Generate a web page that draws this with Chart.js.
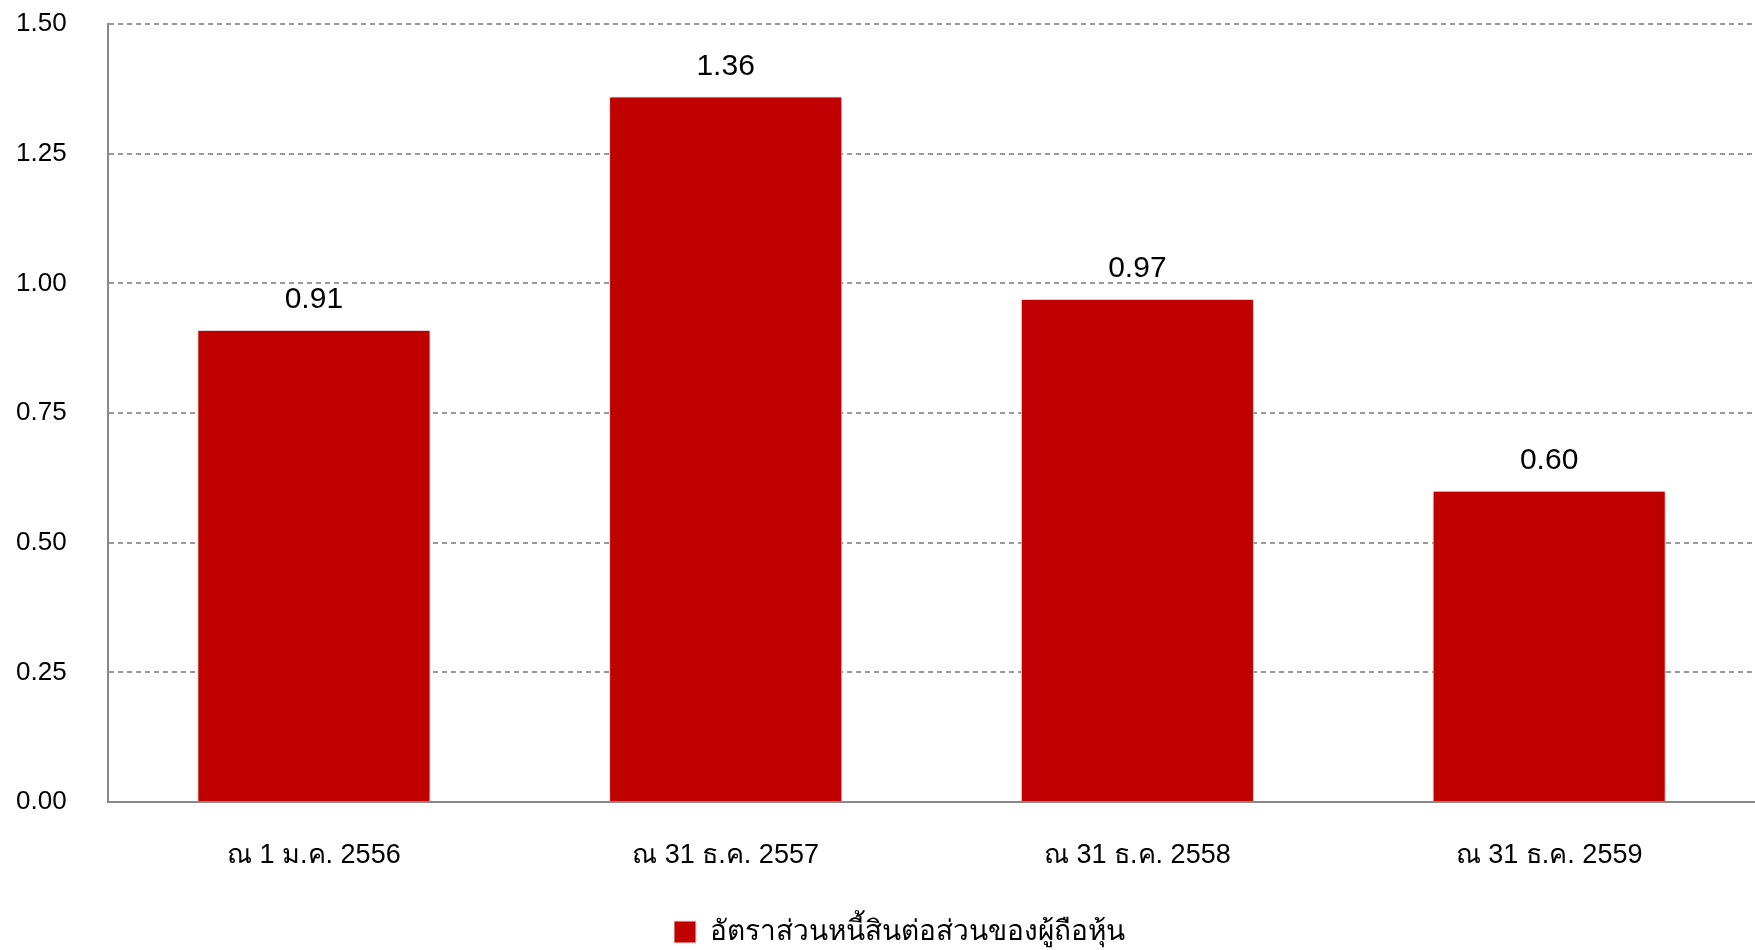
<!DOCTYPE html>
<html>
<head>
<meta charset="utf-8">
<script src="https://cdn.jsdelivr.net/npm/chart.js@4"></script>
<style>
  html, body { margin: 0; padding: 0; background: #fff; }
  #wrap { width: 1755px; height: 950px; }
</style>
</head>
<body>
<div id="wrap"><canvas id="myChart"></canvas></div>
<script>
const labels = ['ณ 1 ม.ค. 2556', 'ณ 31 ธ.ค. 2557', 'ณ 31 ธ.ค. 2558', 'ณ 31 ธ.ค. 2559'];
const ratios = [0.91, 1.36, 0.97, 0.60];
const seriesName = 'อัตราส่วนหนี้สินต่อส่วนของผู้ถือหุ้น';
const yTicks = [0, 0.25, 0.5, 0.75, 1.0, 1.25, 1.5];

const fontFamily = '"Liberation Sans", Arial, sans-serif';

// soft shadow round the bars
const barShadow = {
    id: 'barShadow',
    beforeDatasetDraw(chart) {
        const c = chart.ctx;
        c.save();
        c.shadowColor = 'rgba(0, 0, 0, 0.3)';
        c.shadowBlur = 5;
        c.shadowOffsetX = 2;
        c.shadowOffsetY = 1;
    },
    afterDatasetDraw(chart) {
        chart.ctx.restore();
    }
};

// value above each bar
const valueLabels = {
    id: 'valueLabels',
    afterDatasetsDraw(chart) {
        const c = chart.ctx;
        const meta = chart.getDatasetMeta(0);
        c.save();
        c.font = '30px ' + fontFamily;
        c.fillStyle = '#000';
        c.textAlign = 'center';
        c.textBaseline = 'alphabetic';
        meta.data.forEach((bar, i) => {
            c.fillText(ratios[i].toFixed(2), bar.x, bar.y - 22);
        });
        c.restore();
    }
};

// legend sits a little right of centre in the original
const legendNudge = {
    id: 'legendNudge',
    afterLayout(chart) {
        chart.legend.left += 14;
        chart.legend.right += 14;
    }
};

new Chart(document.getElementById('myChart'), {
    type: 'bar',
    data: {
        labels: labels,
        datasets: [{
            label: seriesName,
            data: ratios,
            backgroundColor: '#C00000',
            borderColor: '#f3dede',
            borderWidth: 1,
            categoryPercentage: 1,
            barPercentage: 0.566
        }]
    },
    plugins: [barShadow, valueLabels, legendNudge],
    options: {
        responsive: true,
        maintainAspectRatio: false,
        animation: false,
        layout: {
            padding: { top: 24, right: 0, bottom: -6, left: 16 }
        },
        plugins: {
            tooltip: { enabled: false },
            legend: {
                position: 'bottom',
                labels: {
                    color: '#000',
                    boxWidth: 22,
                    boxHeight: 22,
                    padding: 16,
                    font: { size: 28, family: fontFamily }
                }
            }
        },
        scales: {
            x: {
                grid: { display: false, drawTicks: false },
                border: { display: true, color: '#888', width: 2 },
                ticks: {
                    color: '#000',
                    padding: 37,
                    font: { size: 27, family: fontFamily }
                },
                afterFit(scale) { scale.height = 100; }
            },
            y: {
                min: 0,
                max: 1.5,
                afterBuildTicks(scale) {
                    scale.ticks = yTicks.map(v => ({ value: v }));
                },
                afterFit(scale) { scale.width = 92; },
                grid: {
                    color: '#999',
                    lineWidth: 2,
                    drawTicks: false
                },
                border: { display: true, color: '#888', width: 2, dash: [5, 4] },
                ticks: {
                    color: '#000',
                    padding: 0,
                    crossAlign: 'far',
                    font: { size: 26, family: fontFamily },
                    callback: v => v.toFixed(2)
                }
            }
        }
    }
});
</script>
</body>
</html>
